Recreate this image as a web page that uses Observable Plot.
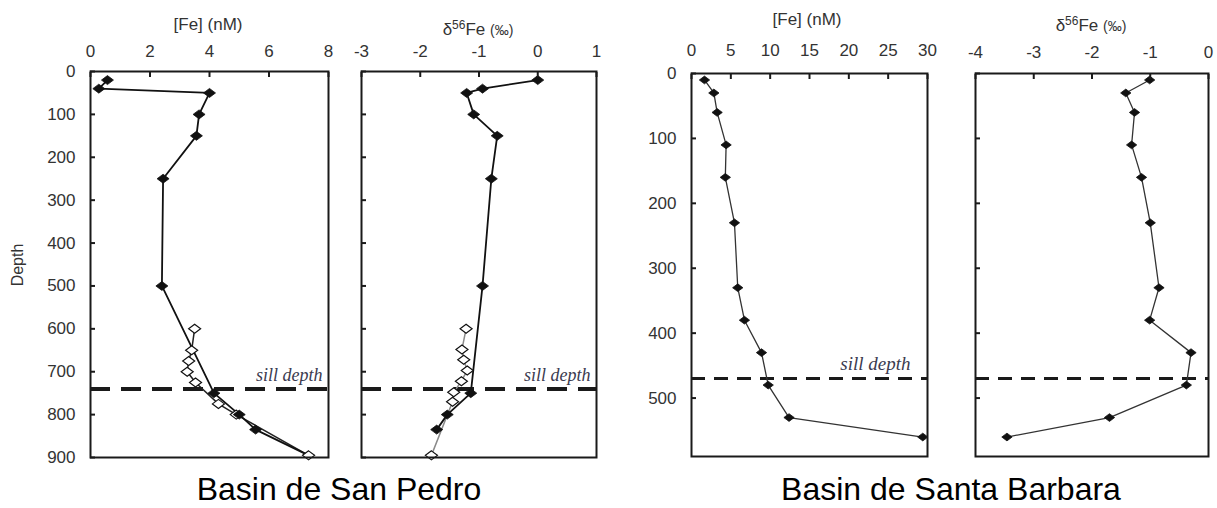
<!DOCTYPE html>
<html><head><meta charset="utf-8">
<script src="https://cdn.jsdelivr.net/npm/d3@7"></script>
<script src="https://cdn.jsdelivr.net/npm/@observablehq/plot@0.6"></script>
<style>
html,body{margin:0;background:#fff;overflow:hidden;}
#wrap{position:relative;width:1217px;height:508px;overflow:hidden;font-family:"Liberation Sans",Arial,sans-serif;}
.panel{position:absolute;top:0;}
.title{position:absolute;font-size:17px;color:#333;transform:translate(-50%,-50%);white-space:nowrap;line-height:1;}
.title sup{font-size:12px;vertical-align:6px;line-height:0;}
.title small{font-size:14px;}
.basin{position:absolute;top:471px;font-size:32px;line-height:36px;color:#000;transform:translateX(-50%);white-space:nowrap;}
.ylab{position:absolute;left:18px;top:265px;font-size:16px;color:#333;transform:translate(-50%,-50%) rotate(-90deg);white-space:nowrap;}
</style></head>
<body>
<div id="wrap">
  <div class="title" style="left:208px;top:24px">[Fe] (nM)</div>
  <div class="title" style="left:478px;top:29px">δ<sup>56</sup>Fe <small>(‰)</small></div>
  <div class="title" style="left:807px;top:19px">[Fe] (nM)</div>
  <div class="title" style="left:1091px;top:25px">δ<sup>56</sup>Fe <small>(‰)</small></div>
  <div class="ylab">Depth</div>
  <div class="basin" style="left:339px">Basin de San Pedro</div>
  <div class="basin" style="left:951px">Basin de Santa Barbara</div>
</div>
<script>
// ---- Basin de San Pedro ----
const spDepth = [20, 40, 50, 100, 150, 250, 500, 750, 800, 835];
const spFe    = [0.57, 0.28, 4.0, 3.65, 3.56, 2.44, 2.4, 4.15, 5.0, 5.55];
const spD56   = [0.0, -0.94, -1.21, -1.09, -0.69, -0.79, -0.94, -1.14, -1.54, -1.72];
const spOpenFeDepth  = [600, 650, 675, 700, 725, 775, 800, 895];
const spOpenFe       = [3.5, 3.4, 3.3, 3.25, 3.53, 4.3, 4.9, 7.33];
const spOpenD56Depth = [600, 648, 672, 697, 722, 748, 770, 895];
const spOpenD56      = [-1.22, -1.29, -1.26, -1.2, -1.3, -1.43, -1.45, -1.81];
const spSill = 740;
// ---- Basin de Santa Barbara ----
const sbDepth = [10, 30, 60, 110, 160, 230, 330, 380, 430, 480, 530, 560];
const sbFe    = [1.65, 2.84, 3.26, 4.4, 4.3, 5.46, 5.88, 6.73, 8.9, 9.75, 12.4, 29.4];
const sbD56   = [-1.01, -1.42, -1.27, -1.32, -1.15, -1.0, -0.85, -1.01, -0.3, -0.38, -1.7, -3.46];
const sbSill = 470;
// ---- ticks ----
const spFeTicks = [0, 2, 4, 6, 8];
const spD56Ticks = [-3, -2, -1, 0, 1];
const spDepthTicks = [0, 100, 200, 300, 400, 500, 600, 700, 800, 900];
const sbFeTicks = [0, 5, 10, 15, 20, 25, 30];
const sbD56Ticks = [-4, -3, -2, -1, 0];
const sbDepthTicks = [0, 100, 200, 300, 400, 500];
const sillLabel = "sill depth";

const zip = (d, v) => d.map((depth, i) => ({depth, v: v[i]}));
const fmt = d => String(d);

const diamond = {
  draw(ctx, size) {
    const r = Math.sqrt(size / Math.PI);
    const w = r * 1.2, h = r * 0.9;
    ctx.moveTo(0, -h); ctx.lineTo(w, 0); ctx.lineTo(0, h); ctx.lineTo(-w, 0); ctx.closePath();
  }
};

function panel(cfg) {
  const marks = [
    Plot.ruleY([cfg.sill], {stroke: "#1a1a1a", strokeWidth: cfg.sillWidth, strokeDasharray: cfg.dash}),
  ];
  if (cfg.sillText) {
    marks.push(Plot.text([cfg.sill], {y: d => d, frameAnchor: "right", text: () => sillLabel,
      dx: cfg.sillDx, dy: cfg.sillDy, textAnchor: "end", fontStyle: "italic",
      fontFamily: "Liberation Serif, serif", fontSize: cfg.sillFont, fill: "#3b3b4f"}));
  }
  for (const s of cfg.series) {
    marks.push(Plot.line(s.line || s.data, {x: "v", y: "depth", stroke: s.lineColor, strokeWidth: s.lineWidth}));
  }
  for (const s of cfg.series) {
    marks.push(Plot.dot(s.data, {x: "v", y: "depth", symbol: diamond, r: s.r,
      fill: s.open ? "#fff" : "#111", stroke: "#111", strokeWidth: s.open ? 1.2 : 0.8}));
  }
  marks.push(Plot.frame({stroke: "#1a1a1a", strokeWidth: 2}));
  marks.push(Plot.axisX({anchor: "top", ticks: cfg.xTicks, tickSize: -5, tickPadding: cfg.xPad,
    label: null, fontSize: 17, stroke: "#1a1a1a", fill: "#333", strokeWidth: 2, tickFormat: fmt}));
  marks.push(Plot.axisY({anchor: "left", ticks: cfg.yTicks, tickSize: -5, tickPadding: 20,
    label: null, fontSize: 17, stroke: "#1a1a1a", fill: "#333", strokeWidth: 2,
    tickFormat: cfg.yLabels ? fmt : () => ""}));
  const svg = Plot.plot({
    width: cfg.width, height: 470,
    marginLeft: cfg.ml, marginRight: cfg.mr, marginTop: cfg.mt, marginBottom: cfg.mb,
    x: {domain: cfg.xDomain},
    y: {domain: cfg.yDomain, reverse: true},
    style: {fontFamily: "Liberation Sans, Arial, sans-serif", background: "transparent", overflow: "visible"},
    marks
  });
  svg.classList.add("panel");
  svg.style.left = cfg.left + "px";
  document.getElementById("wrap").appendChild(svg);
}

const spOpenFeData = zip(spOpenFeDepth, spOpenFe);
const spFeData = zip(spDepth, spFe);

panel({left: 0, width: 340, ml: 90, mr: 12, mt: 71, mb: 13,
  xDomain: [0, 8], xTicks: spFeTicks, xPad: 20, yDomain: [0, 900], yTicks: spDepthTicks, yLabels: true,
  sill: spSill, sillWidth: 4, dash: "20,11", sillText: true, sillDx: -6, sillDy: -14, sillFont: 18,
  series: [
    {data: spOpenFeData, open: true, lineColor: "#222", lineWidth: 1.5, r: 5},
    {data: spFeData, line: spFeData.concat(spOpenFeData.slice(-1)), open: false, lineColor: "#111", lineWidth: 1.8, r: 5}
  ]});
panel({left: 340, width: 270, ml: 21, mr: 14, mt: 71, mb: 13,
  xDomain: [-3, 1], xTicks: spD56Ticks, xPad: 20, yDomain: [0, 900], yTicks: spDepthTicks, yLabels: false,
  sill: spSill, sillWidth: 4, dash: "20,11", sillText: true, sillDx: -6, sillDy: -14, sillFont: 18,
  series: [
    {data: zip(spOpenD56Depth, spOpenD56), open: true, lineColor: "#8a8a8a", lineWidth: 1.5, r: 5},
    {data: zip(spDepth, spD56), open: false, lineColor: "#111", lineWidth: 1.8, r: 5}
  ]});
panel({left: 620, width: 320, ml: 71, mr: 13, mt: 73, mb: 14,
  xDomain: [0, 30], xTicks: sbFeTicks, xPad: 23, yDomain: [0, 590], yTicks: sbDepthTicks, yLabels: true,
  sill: sbSill, sillWidth: 3, dash: "14,9", sillText: true, sillDx: -17, sillDy: -15, sillFont: 19,
  series: [
    {data: zip(sbDepth, sbFe), open: false, lineColor: "#333", lineWidth: 1.3, r: 4.3}
  ]});
panel({left: 945, width: 272, ml: 30, mr: 9, mt: 73, mb: 14,
  xDomain: [-4, 0], xTicks: sbD56Ticks, xPad: 21, yDomain: [0, 590], yTicks: sbDepthTicks, yLabels: false,
  sill: sbSill, sillWidth: 3, dash: "14,9", sillText: false,
  series: [
    {data: zip(sbDepth, sbD56), open: false, lineColor: "#333", lineWidth: 1.3, r: 4.3}
  ]});
</script>
</body></html>
